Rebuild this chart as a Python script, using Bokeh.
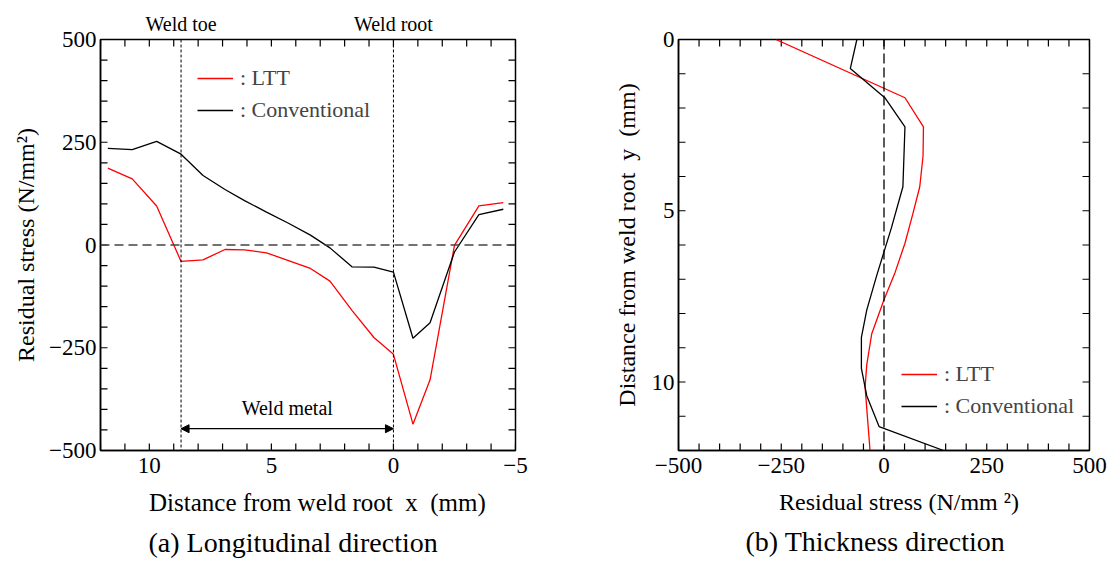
from bokeh.plotting import figure
from bokeh.models import (Range1d, FixedTicker, LinearAxis, Span, Label, Arrow,
                          NormalHead, Legend, LegendItem)
from bokeh.layouts import row
from bokeh.embed import file_html
from bokeh.resources import INLINE

# ---------------- data ----------------
# (a) Longitudinal direction
x_long = [11.7, 10.7, 9.7, 8.7, 7.8, 6.9, 6.1, 5.2, 4.3, 3.4, 2.6, 1.7, 0.8, 0.0, -0.8, -1.5, -2.5, -3.5, -4.5]
ltt_long = [187, 161, 95, -40, -36, -11, -12, -19, -38, -57, -88, -159, -225, -266, -436, -328, -1, 95, 103]
conv_long = [235, 232, 252, 221, 169, 135, 108, 80, 53, 24, -7, -53, -54, -66, -227, -189, -17, 74, 87]

# (b) Thickness direction
y_ltt = [0, 1.7, 2.55, 3.4, 4.3, 5.1, 5.95, 6.8, 7.6, 8.6, 9.5, 10.15, 12.0]
ltt_thick = [-263, 51, 96, 95, 87, 70, 51, 27, 0, -30, -42, -46, -34]
y_conv = [0, 0.85, 1.7, 2.55, 4.3, 5.5, 6.2, 6.9, 7.9, 8.7, 9.6, 10.4, 11.3, 12.0]
conv_thick = [-66, -82, 2, 51, 46, 18, 0, -18, -42, -55, -55, -42, -12, 145]

weld_toe_x = 8.7
weld_root_x = 0.0
weld_metal_y = -447

x_range_a = (12, -5)
stress_range = (-500, 500)
y_range_b = (12, 0)

stress_ticks = [-500, -250, 0, 250, 500]
stress_minor = list(range(-500, 501, 50))
x_ticks = [10, 5, 0, -5]
x_minor = list(range(-5, 13))
y_ticks = [0, 5, 10]
y_minor = list(range(0, 13))

FONT = "Liberation Serif"
MINUS = "\u2212"
NBSP = "\u00a0"
TICK_PX = 7


def style_axis(ax):
    ax.major_tick_in = 0
    ax.major_tick_out = 0
    ax.minor_tick_in = 0
    ax.minor_tick_out = 0
    ax.axis_line_width = 1.5
    ax.axis_line_color = "black"
    ax.major_label_text_font = FONT
    ax.major_label_text_color = "black"
    ax.major_label_text_font_size = "23px"
    ax.major_label_standoff = 4
    ax.axis_label_text_font = FONT
    ax.axis_label_text_font_style = "normal"
    ax.axis_label_text_color = "black"
    ax.axis_label_text_font_size = "24px"


def overrides(vals):
    return {v: (MINUS + str(abs(v)) if v < 0 else str(v)) for v in vals}


def inward_ticks(p, xr, yr, xt, yt, fw, fh):
    """Draw inward ticks on all four sides of the frame from the tick lists."""
    lx = (xr[1] - xr[0]) / fw * TICK_PX
    ly = (yr[1] - yr[0]) / fh * TICK_PX
    x0, x1, y0, y1 = [], [], [], []
    for t in xt:
        x0 += [t, t]
        x1 += [t, t]
        y0 += [yr[0], yr[1]]
        y1 += [yr[0] + ly, yr[1] - ly]
    for t in yt:
        x0 += [xr[0], xr[1]]
        x1 += [xr[0] + lx, xr[1] - lx]
        y0 += [t, t]
        y1 += [t, t]
    p.segment(x0, y0, x1, y1, line_color="black", line_width=1.2)


def style_title(p, text, offset):
    p.title.text = text
    p.title_location = "below"
    p.title.align = "left"
    p.title.offset = offset
    p.title.standoff = 12
    p.title.text_font = FONT
    p.title.text_font_size = "28px"
    p.title.text_font_style = "normal"
    p.title.text_color = "black"


def make_legend(p, r1, r2, loc):
    leg = Legend(items=[LegendItem(label=": LTT", renderers=[r1]),
                        LegendItem(label=": Conventional", renderers=[r2])],
                 location=loc, glyph_width=36, glyph_height=24, label_height=24,
                 spacing=6, padding=0, margin=0, label_standoff=7,
                 label_text_font=FONT, label_text_font_size="22px",
                 background_fill_alpha=0, border_line_color=None)
    p.add_layout(leg)


H = 563

# ---------------- panel (a) ----------------
W1 = 568
L1, R1, T1 = 100, 53, 37
B1 = H - T1 - 413
p1 = figure(width=W1, height=H, output_backend="svg", toolbar_location=None,
            x_range=Range1d(*x_range_a), y_range=Range1d(*stress_range),
            min_border_left=L1, min_border_right=R1, min_border_top=T1, min_border_bottom=B1,
            x_axis_label=NBSP * 3 + "Distance from weld root" + NBSP + " x" + NBSP + " (mm)",
            y_axis_label="Residual stress (N/mm\u00b2)")
p1.grid.visible = False
p1.outline_line_color = "black"
p1.outline_line_width = 1.5

p1.xaxis.ticker = FixedTicker(ticks=x_ticks)
p1.yaxis.ticker = FixedTicker(ticks=stress_ticks)
p1.xaxis.major_label_overrides = overrides(x_ticks)
p1.yaxis.major_label_overrides = overrides(stress_ticks)
for ax in p1.xaxis + p1.yaxis:
    style_axis(ax)
p1.xaxis.major_label_standoff = 7
p1.xaxis.axis_label_standoff = 13
p1.xaxis.axis_label_text_font_size = "25px"
p1.yaxis.axis_label_standoff = 7

# top axis carrying the "Weld toe" / "Weld root" captions
top1 = LinearAxis(ticker=FixedTicker(ticks=[weld_toe_x, weld_root_x]),
                  major_label_overrides={weld_toe_x: "Weld toe", weld_root_x: "Weld root"})
top1.major_tick_in = 0
top1.major_tick_out = 0
top1.minor_tick_in = 0
top1.minor_tick_out = 0
top1.axis_line_color = None
top1.major_label_standoff = 5
top1.major_label_text_font = FONT
top1.major_label_text_font_size = "20px"
top1.major_label_text_color = "black"
p1.add_layout(top1, "above")

inward_ticks(p1, x_range_a, stress_range, x_minor, stress_minor, W1 - L1 - R1, H - T1 - B1)

p1.add_layout(Span(location=0, dimension="width", line_color="#444444",
                   line_width=1.5, line_dash="9 5"))
for xv in (weld_toe_x, weld_root_x):
    p1.add_layout(Span(location=xv, dimension="height", line_color="black",
                       line_width=1, line_dash="3 2"))

r_ltt1 = p1.line(x_long, ltt_long, line_color="#ff0000", line_width=1.3)
r_conv1 = p1.line(x_long, conv_long, line_color="black", line_width=1.3)

p1.add_layout(Label(x=(weld_toe_x + weld_root_x) / 2, y=weld_metal_y, y_offset=10,
                    text="Weld metal", text_align="center", text_baseline="bottom",
                    text_font=FONT, text_font_size="20px", text_color="black"))
p1.add_layout(Arrow(x_start=weld_toe_x, y_start=weld_metal_y, x_end=weld_root_x, y_end=weld_metal_y,
                    line_color="black", line_width=1.2,
                    start=NormalHead(size=8, fill_color="black", line_color="black"),
                    end=NormalHead(size=8, fill_color="black", line_color="black")))

make_legend(p1, r_ltt1, r_conv1, (97, 327))
style_title(p1, "(a) Longitudinal direction", 48)

# ---------------- panel (b) ----------------
W2 = 545
L2, R2, T2 = 110, 24, 39
B2 = H - T2 - 413
p2 = figure(width=W2, height=H, output_backend="svg", toolbar_location=None,
            x_range=Range1d(*stress_range), y_range=Range1d(*y_range_b),
            min_border_left=L2, min_border_right=R2, min_border_top=T2, min_border_bottom=B2,
            x_axis_label=NBSP * 5 + "Residual stress (N/mm \u00b2)",
            y_axis_label="Distance from weld root" + NBSP + " y" + NBSP + " (mm)")
p2.grid.visible = False
p2.outline_line_color = "black"
p2.outline_line_width = 1.5

p2.xaxis.ticker = FixedTicker(ticks=stress_ticks)
p2.yaxis.ticker = FixedTicker(ticks=y_ticks)
p2.xaxis.major_label_overrides = overrides(stress_ticks)
for ax in p2.xaxis + p2.yaxis:
    style_axis(ax)
p2.xaxis.major_label_standoff = 7
p2.xaxis.axis_label_standoff = 13
p2.yaxis.axis_label_standoff = 9

inward_ticks(p2, stress_range, y_range_b, stress_minor, y_minor, W2 - L2 - R2, H - T2 - B2)

p2.add_layout(Span(location=0, dimension="height", line_color="black",
                   line_width=1.3, line_dash="10 4"))

r_ltt2 = p2.line(ltt_thick, y_ltt, line_color="#ff0000", line_width=1.3)
r_conv2 = p2.line(conv_thick, y_conv, line_color="black", line_width=1.3)

make_legend(p2, r_ltt2, r_conv2, (223, 31))
style_title(p2, "(b) Thickness direction", 67)

layout = row(p1, p2)
open("out.html", "w").write(file_html(layout, INLINE))
